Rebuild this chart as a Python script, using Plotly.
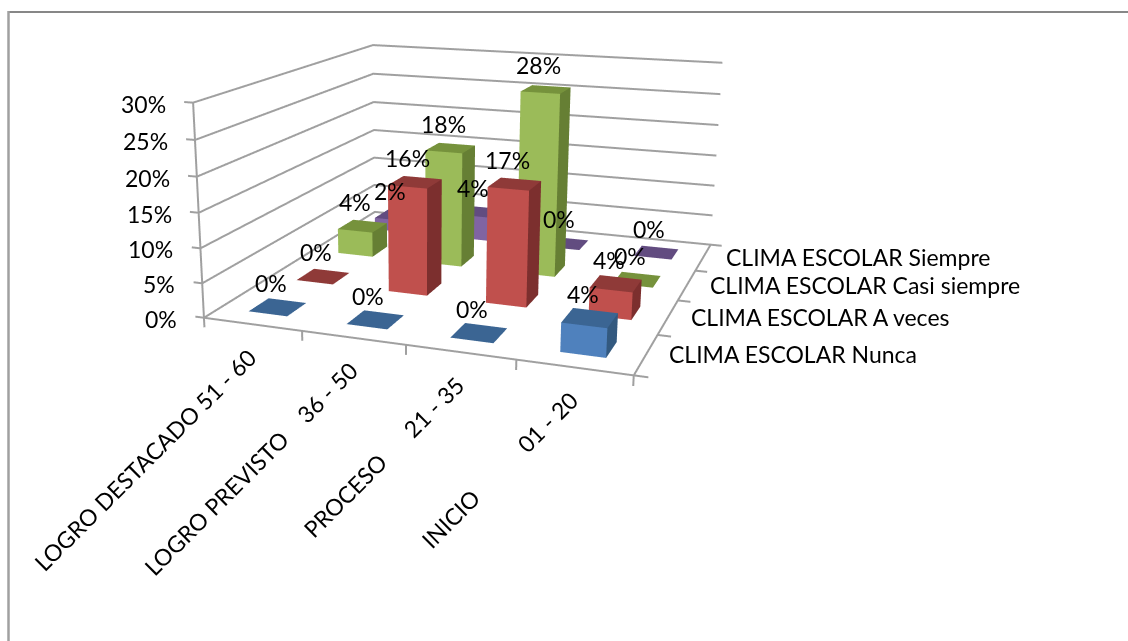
import plotly.graph_objects as go

NBSP = "\u00a0"
CATEGORIES = ["LOGRO DESTACADO 51 - 60", "LOGRO PREVISTO" + NBSP * 4 + "36 - 50",
              "PROCESO" + NBSP * 6 + "21 - 35", "INICIO" + NBSP * 11 + "01 - 20"]
SERIES = ["CLIMA ESCOLAR Nunca", "CLIMA ESCOLAR A veces",
          "CLIMA ESCOLAR Casi siempre", "CLIMA ESCOLAR Siempre"]
NUNCA = [0, 0, 0, 4]
A_VECES = [0, 16, 17, 4]
CASI_SIEMPRE = [4, 18, 28, 0]
SIEMPRE = [2, 4, 0, 0]
Z_TICKS = [0, 5, 10, 15, 20, 25, 30]

# Page and scene geometry: the scene is taller than the page so the lens is long
# enough; the graph div is lifted by PAGE_LIFT pixels to place the vanishing point.
W, FIG_H, PAGE_LIFT = 1128, 1076, 292
VIEW_W = 846.6
EYE = dict(x=0.9704, y=-2.9757, z=0.7496)
CENTER = dict(x=-0.0977, y=-0.1423, z=-0.137)
UP = dict(x=0.0005, y=-0.0011, z=1)
KX, KY, KZ = 0.25, 0.2548, 1.668
XR, YR, ZR = [-1.5, 5.5], [-1.5, 5.5], [-0.15, 0.45]
BAR_SIZE = 0.4

# Shades per series: front, top, side
SHADES = [["#4F81BD", "#3B6593", "#33597F"], ["#C0504D", "#8F3A38", "#7C2F2E"],
          ["#9BBB59", "#76923C", "#667F34"], ["#8064A2", "#624C80", "#54407A"]]
ALL_SERIES = [NUNCA, A_VECES, CASI_SIEMPRE, SIEMPRE]

fig = go.Figure()


def add_bar(i, j, val, cols):
    x0, x1 = i + .5 - BAR_SIZE / 2, i + .5 + BAR_SIZE / 2
    y0, y1 = j + .5 - BAR_SIZE / 2, j + .5 + BAR_SIZE / 2
    z = val / 100
    fig.add_trace(go.Mesh3d(
        x=[x0, x1, x1, x0, x0, x1, x1, x0], y=[y0, y0, y1, y1, y0, y0, y1, y1], z=[0, 0, 0, 0, z, z, z, z],
        i=[4, 4, 0, 0, 1, 1], j=[5, 6, 1, 5, 2, 6], k=[6, 7, 5, 4, 6, 5],
        facecolor=[cols[1], cols[1], cols[0], cols[0], cols[2], cols[2]], flatshading=True,
        lighting=dict(ambient=1, diffuse=0, specular=0, fresnel=0, roughness=1),
        hoverinfo="skip", showscale=False))


for j, vals in enumerate(ALL_SERIES):
    for i, v in enumerate(vals):
        add_bar(i, j, v, SHADES[j])

lx, ly, lz = [], [], []


def seg(*pts):
    for a in pts:
        lx.append(a[0]); ly.append(a[1]); lz.append(a[2])
    lx.append(None); ly.append(None); lz.append(None)


for t in Z_TICKS:
    seg((-.09, 0, t / 100), (0, 0, t / 100), (0, 4, t / 100), (4, 4, t / 100))
seg((0, 0, 0), (0, 0, .3))
seg((0, 0, 0), (4, 0, 0), (4, 4, 0))
for i in range(5):
    seg((i, 0, 0), (i, 0, -.014))
for j in range(5):
    seg((4, j, 0), (4.12, j, 0))
fig.add_trace(go.Scatter3d(x=lx, y=ly, z=lz, mode="lines", line=dict(color="#A0A0A0", width=4),
                           hoverinfo="skip", showlegend=False))

FONT = dict(family="Lato", size=23, color="black")
ann = []
for j, vals in enumerate(ALL_SERIES):
    for i, v in enumerate(vals):
        ann.append(dict(x=i + .5, y=j + .5, z=v / 100, text=f"{v}%", showarrow=False, xshift=-7, yshift=24, font=FONT))
for t in Z_TICKS:
    ann.append(dict(x=0, y=0, z=t / 100, text=f"{t}%", showarrow=False, xanchor="right", xshift=-25, yshift=-1, font=FONT))
for i, c in enumerate(CATEGORIES):
    ann.append(dict(x=i + .5, y=0, z=0, text=c, showarrow=False, textangle=-45, xanchor="right", yanchor="top",
                    xshift=12, yshift=-16, font=FONT))
for j, s in enumerate(SERIES):
    ann.append(dict(x=4, y=j + .5, z=0, text=s, showarrow=False, xanchor="left", xshift=21, font=FONT))


def ax(r):
    return dict(range=r, visible=False, autorange=False)


def page_y(px):
    return 1 - (px + PAGE_LIFT) / FIG_H


spans = [XR[1] - XR[0], YR[1] - YR[0], ZR[1] - ZR[0]]
fig.update_layout(
    width=W, height=FIG_H, margin=dict(l=0, r=0, t=0, b=0), paper_bgcolor="white", showlegend=False,
    shapes=[dict(type="line", xref="paper", yref="paper", x0=8 / W, x1=1, y0=page_y(12), y1=page_y(12),
                 line=dict(color="#878787", width=2)),
            dict(type="line", xref="paper", yref="paper", x0=8.5 / W, x1=8.5 / W, y0=page_y(11), y1=page_y(641),
                 line=dict(color="#A0A0A0", width=2.5))],
    scene=dict(domain=dict(x=[0, VIEW_W / W], y=[0, 1]), xaxis=ax(XR), yaxis=ax(YR), zaxis=ax(ZR),
               aspectmode="manual",
               aspectratio=dict(x=spans[0] * KX, y=spans[1] * KY, z=spans[2] * KZ), dragmode="orbit",
               camera=dict(eye=EYE, center=CENTER, up=UP, projection=dict(type="perspective")),
               annotations=ann))
lift = ("document.body.style.overflow='hidden';document.documentElement.style.overflow='hidden';"
        "document.getElementById('{plot_id}').style.marginTop='-%dpx';" % PAGE_LIFT)
fig.write_html("out.html", post_script=lift)
